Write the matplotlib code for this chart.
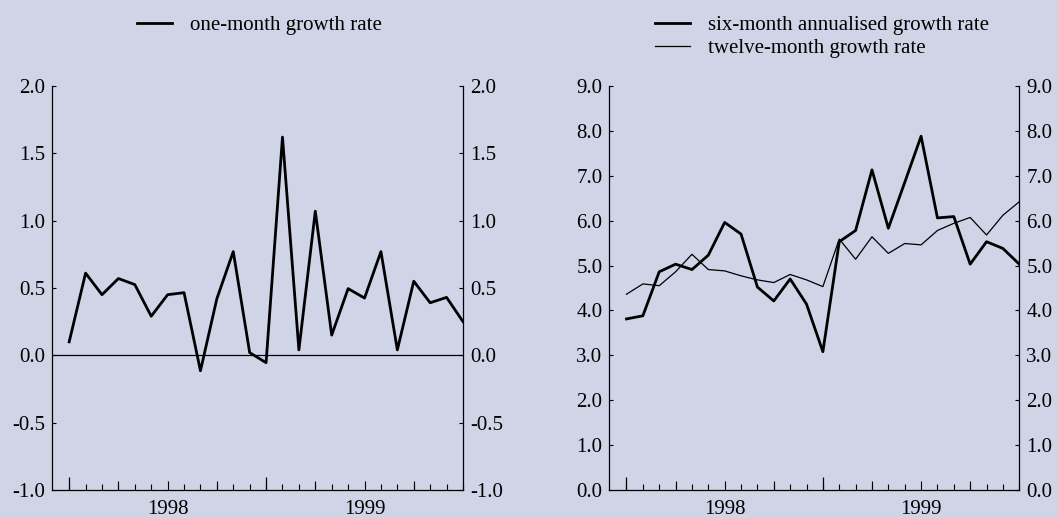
#!/usr/bin/env python3
# -*- coding: utf-8 -*-
"""
Two panels of monthly growth rates, 1998-1999.
Left: one-month growth rate. Right: six-month annualised and twelve-month rates.
"""

import matplotlib
matplotlib.use("Agg")
import matplotlib.pyplot as plt
from matplotlib.ticker import FormatStrFormatter, MultipleLocator, FixedLocator
import numpy as np

plt.rcParams['font.family'] = ['Liberation Serif', 'DejaVu Serif']
plt.rcParams['axes.unicode_minus'] = False

BG = '#CFD4E6'
FS = 15

# --- data (months from the first observation) ---
months = np.arange(25)
year_labels = ['1998', '1999']

one_month = [0.10, 0.61, 0.45, 0.57, 0.525, 0.29, 0.45, 0.465, -0.115, 0.42,
             0.77, 0.02, -0.055, 1.62, 0.04, 1.07, 0.15, 0.495, 0.425, 0.77,
             0.04, 0.55, 0.39, 0.43, 0.25]

six_month = [3.81, 3.88, 4.86, 5.03, 4.91, 5.23, 5.96, 5.70, 4.52, 4.21,
             4.70, 4.14, 3.08, 5.53, 5.78, 7.13, 5.83, 6.85, 7.88, 6.06,
             6.09, 5.03, 5.53, 5.38, 5.03]

twelve_month = [4.36, 4.59, 4.55, 4.86, 5.25, 4.91, 4.88, 4.77, 4.68, 4.62,
                4.80, 4.68, 4.53, 5.59, 5.14, 5.64, 5.27, 5.49, 5.46, 5.78,
                5.94, 6.07, 5.68, 6.12, 6.42]


def style_axis(ax, ylim, ystep):
    ax.set_facecolor(BG)
    ax.set_xlim(-1.05, 24)
    ax.set_ylim(*ylim)
    for side in ['left', 'right', 'bottom']:
        ax.spines[side].set_linewidth(0.9)
    ax.spines['top'].set_visible(False)

    # y axis: same ticks on both sides, pointing inward
    ax.yaxis.set_major_locator(MultipleLocator(ystep))
    ax.yaxis.set_major_formatter(FormatStrFormatter('%.1f'))
    ax.tick_params(axis='y', direction='in', length=3, width=0.8,
                   left=True, right=True, labelleft=True, labelright=True,
                   labelsize=FS, pad=5)

    # x axis: year labels centred, monthly ticks
    ax.set_xticks([6, 18])
    ax.set_xticklabels(year_labels)
    ax.tick_params(axis='x', which='major', length=0, labelsize=FS, pad=7.5)
    ax.xaxis.set_minor_locator(FixedLocator(months))
    ax.tick_params(axis='x', which='minor', direction='in', length=4, width=0.8)

    # quarterly and yearly ticks (longer)
    q = ax.secondary_xaxis('bottom')
    q.set_xticks([3, 6, 9, 15, 18, 21])
    q.set_xticklabels([])
    q.tick_params(direction='in', length=6.5, width=0.8)
    q.spines['bottom'].set_visible(False)
    y = ax.secondary_xaxis('bottom')
    y.set_xticks([0, 12])
    y.set_xticklabels([])
    y.tick_params(direction='in', length=9.5, width=0.9)
    y.spines['bottom'].set_visible(False)


fig = plt.figure(figsize=(10.58, 5.18), dpi=100, facecolor=BG)

ax1 = fig.add_axes([0.0491, 0.0541, 0.3885, 0.780])
ax2 = fig.add_axes([0.5759, 0.0541, 0.3875, 0.780])

style_axis(ax1, (-1.0, 2.0), 0.5)
ax1.axhline(0, color='black', lw=0.9, zorder=1)
ax1.plot(months, one_month, color='black', lw=2.0, label='one-month growth rate',
         zorder=3)

style_axis(ax2, (0.0, 9.0), 1.0)
ax2.plot(months, six_month, color='black', lw=2.0,
         label='six-month annualised growth rate', zorder=3)
ax2.plot(months, twelve_month, color='black', lw=0.9,
         label='twelve-month growth rate', zorder=2)

leg_kw = dict(frameon=False, fontsize=FS, handlelength=1.7, handletextpad=0.85,
              borderpad=0, borderaxespad=0, labelspacing=0.15)
h1, l1 = ax1.get_legend_handles_labels()
fig.legend(h1, l1, loc='center left', bbox_to_anchor=(0.1295, 0.951), **leg_kw)
h2, l2 = ax2.get_legend_handles_labels()
fig.legend(h2, l2, loc='center left', bbox_to_anchor=(0.619, 0.929), **leg_kw)

fig.savefig('out.png', dpi=100, facecolor=BG)
